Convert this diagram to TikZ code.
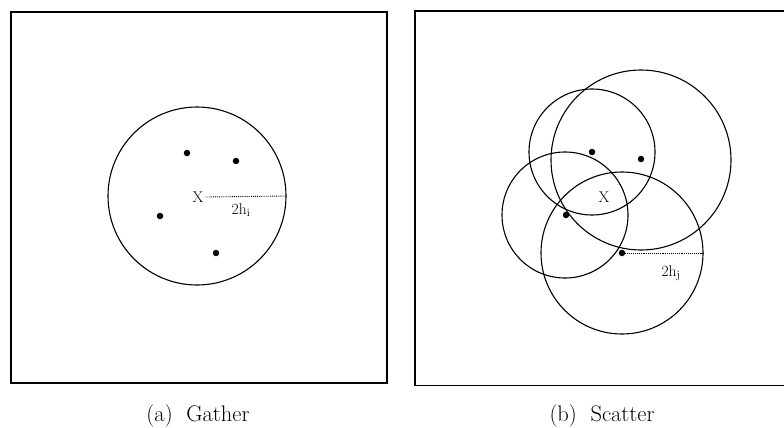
\documentclass[tikz,border=0pt]{standalone}
\begin{document}
\begin{tikzpicture}[x=1pt,y=-1pt,
  frame/.style={draw, line width=1.1pt},
  ring/.style={draw, circle, line width=1.1pt, inner sep=0pt},
  pt/.style={circle, fill, inner sep=0pt, minimum size=6.5pt},
  radiusline/.style={densely dotted, line width=0.9pt},
  lbl/.style={font=\fontsize{15.5}{18}\selectfont, inner sep=0pt},
  captext/.style={font=\fontsize{22.5}{26}\selectfont, inner sep=0pt, anchor=base}
]
\clip (0,0) rectangle (784,428);
% frames
\draw[frame] (11,12) rectangle (387,383);
\draw[frame] (415,11) rectangle (800,385.5);

% (a) Gather
\node[ring, minimum size=178pt] (ga) at (197,196) {};
\node[pt] (a1) at (187,153) {};
\node[pt] (a2) at (236,161) {};
\node[pt] (a3) at (160,216) {};
\node[pt] (a4) at (216,253) {};
\node[lbl] (xa) at (198,197) {X};
\draw[radiusline] ([xshift=2pt]xa.east) -- (ga.east);
\node[lbl] (ha) at (241,210) {2h$_{\mathrm{i}}$};

% (b) Scatter
\node[pt] (b1) at (592,152) {};
\node[pt] (b2) at (641,159) {};
\node[pt] (b3) at (566,215) {};
\node[pt] (b4) at (622,253) {};
\node[ring, minimum size=126pt] (c1) at (b1) {};
\node[ring, minimum size=180pt] (c2) at (641,160) {};
\node[ring, minimum size=126pt] (c3) at (565,215) {};
\node[ring, minimum size=162pt] (c4) at (b4) {};
\node[lbl] (xb) at (604,197) {X};
\draw[radiusline] (b4) -- (c4.east);
\node[lbl] (hb) at (671,273) {2h$_{\mathrm{j}}$};

% captions
\node[captext] (capa) at (198,421) {(a)\ \ Gather};
\node[captext] (capb) at (602,421) {(b)\ \ Scatter};
\end{tikzpicture}
\end{document}
